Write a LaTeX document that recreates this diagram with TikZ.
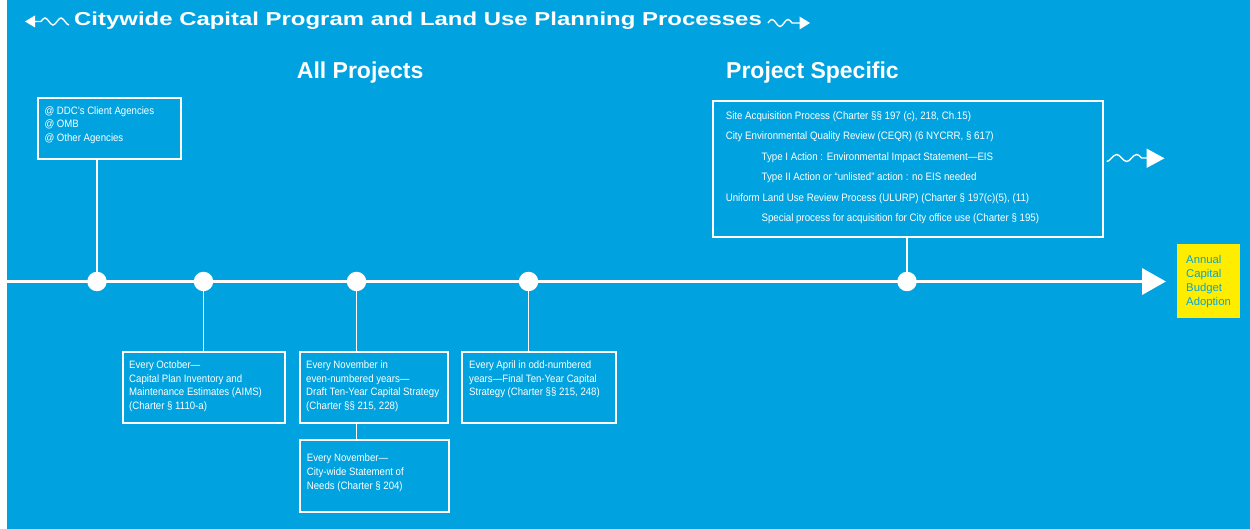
\documentclass[tikz,border=0pt]{standalone}
\usepackage{fontspec}
\setmainfont{Liberation Sans}
\newfontfamily\titlefont[FakeStretch=1.28]{Liberation Sans}
\newfontfamily\narrowfont[FakeStretch=0.9]{Liberation Sans}
\usetikzlibrary{arrows.meta}
\definecolor{planblue}{RGB}{0,163,224}
\definecolor{budgetyellow}{RGB}{255,237,0}

\begin{document}
\begin{tikzpicture}[x=1pt,y=-1pt,
  box/.style={draw=white,line width=1.8pt,inner sep=0pt,anchor=north west},
  txt/.style={text=white,align=left,inner sep=0pt,anchor=north west,
              font=\narrowfont\fontsize{10.7}{13.8}\selectfont},
  dot/.style={circle,fill=white,inner sep=0pt,minimum size=19.5pt},
  link/.style={draw=white,line width=1.8pt},
  heading/.style={text=white,inner sep=0pt,anchor=base west,
                  font=\fontsize{23}{23}\selectfont\bfseries},
  wave/.style={draw=white,line width=1.4pt},
]
\useasboundingbox (0,0) rectangle (1250,529);
\fill[planblue] (7,0) rectangle (1250,529);

% title with wavy arrows on both sides
\node[text=white,inner sep=0pt,anchor=base west,
      font=\titlefont\fontsize{18.7}{18.7}\selectfont\bfseries]
  (title) at (74,26) {Citywide Capital Program and Land Use Planning Processes};
\fill[white] (25,21.5) -- (35,15.5) -- (35,27.5) -- cycle;
\draw[wave] (34,21.5) -- (41,21.5) sin (45,18) cos (49,21.5) sin (53,25)
  cos (57,21.5) sin (61,18) cos (65,21.5) sin (69,25);
\draw[wave] (768,23) sin (772,19.5) cos (776,23) sin (780,26.5) cos (784,23)
  sin (788,19.5) cos (792,23) -- (801,23);
\fill[white] (810,23) -- (799.5,16.5) -- (799.5,29.5) -- cycle;

% section headings
\node[heading] (allproj) at (296.7,78.3) {All Projects};
\node[heading] (specific) at (726,78.3) {Project Specific};

% time line
\coordinate (tlstart) at (7,281.5);
\coordinate (tlend) at (1166,281.5);
\draw[white,line width=3.8pt,-{Triangle[length=24pt,width=26pt]}] (tlstart) -- (tlend);

\node[dot] (d1) at (97,281.5) {};
\node[dot] (d2) at (203.5,281.5) {};
\node[dot] (d3) at (356.5,281.5) {};
\node[dot] (d4) at (528.5,281.5) {};
\node[dot] (d5) at (907,281.5) {};

% boxes above the line
\node[box,minimum width=143pt,minimum height=61pt] (agencies) at (37,97) {};
\node[txt] (agtxt) at (44.3,106.2) {@ DDC’s Client Agencies\\@ OMB\\@ Other Agencies};

\node[box,minimum width=390pt,minimum height=136pt] (site) at (712,100) {};
\node[txt,font=\narrowfont\fontsize{10.8}{20.5}\selectfont] (sitetxt) at (725.6,111.2)
  {Site Acquisition Process (Charter §§ 197 (c), 218, Ch.15)\\
   City Environmental Quality Review (CEQR) (6 NYCRR, § 617)\\
   \hspace*{35.8pt}Type I Action : Environmental Impact Statement—EIS\\
   \hspace*{35.8pt}Type II Action or “unlisted” action : no EIS needed\\
   Uniform Land Use Review Process (ULURP) (Charter § 197(c)(5), (11)\\
   \hspace*{35.8pt}Special process for acquisition for City office use (Charter § 195)};

% wavy arrow beside the project specific box
\draw[wave] (1106.7,161.5) cos (1111.7,158) sin (1116.7,154.5) cos (1121.7,158)
  sin (1126.7,161.5) cos (1131.7,158) sin (1136.7,154.5) cos (1141.7,158) -- (1148,158);
\fill[white] (1164.5,158.3) -- (1146.5,148.5) -- (1146.5,168) -- cycle;

% boxes below the line
\node[box,minimum width=162pt,minimum height=71pt] (oct) at (122,351) {};
\node[txt] (octtxt) at (129,360.4)
  {Every October—\\Capital Plan Inventory and\\Maintenance Estimates (AIMS)\\(Charter § 1110-a)};

\node[box,minimum width=148pt,minimum height=71pt] (nov) at (299,351) {};
\node[txt] (novtxt) at (306,360.4)
  {Every November in\\even-numbered years—\\Draft Ten-Year Capital Strategy\\(Charter §§ 215, 228)};

\node[box,minimum width=149pt,minimum height=72pt] (needs) at (299,439) {};
\node[txt] (needstxt) at (306.7,453.7)
  {Every November—\\City-wide Statement of\\Needs (Charter § 204)};

\node[box,minimum width=154pt,minimum height=71pt] (april) at (461,351) {};
\node[txt] (apriltxt) at (469,360.4)
  {Every April in odd-numbered\\years—Final Ten-Year Capital\\Strategy (Charter §§ 215, 248)};

% budget adoption at the end of the line
\node[fill=budgetyellow,inner sep=0pt,anchor=north west,
      minimum width=63pt,minimum height=74pt] (budget) at (1177,244) {};
\node[txt,text=planblue,font=\fontsize{11.3}{13.9}\selectfont] (budgettxt) at (1186,255.4)
  {Annual\\Capital\\Budget\\Adoption};

% connectors from the time line to the boxes
\draw[link] (d1.north) -- (d1 |- agencies.south);
\draw[link] (d2.south) -- (d2 |- oct.north);
\draw[link] (d3.south) -- (d3 |- nov.north);
\draw[link] (d3 |- nov.south) -- (d3 |- needs.north);
\draw[link] (d4.south) -- (d4 |- april.north);
\draw[link] (d5.north) -- (d5 |- site.south);
\end{tikzpicture}
\end{document}
